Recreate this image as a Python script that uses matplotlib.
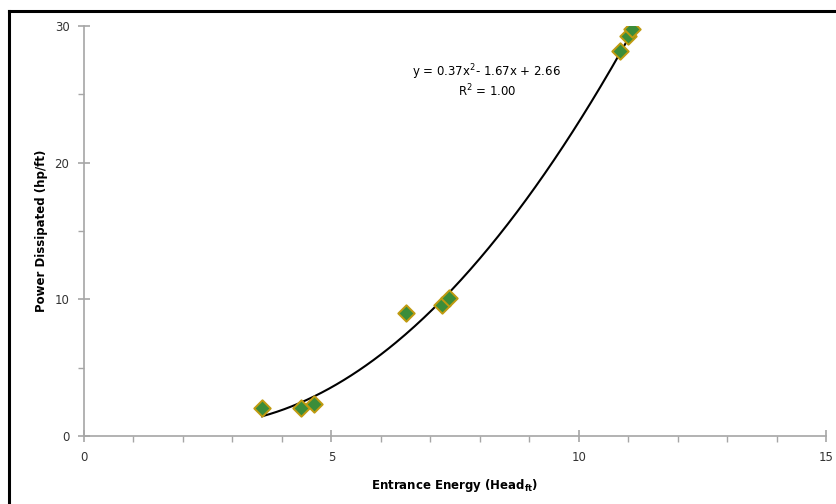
import matplotlib.pyplot as plt
import numpy as np
from matplotlib.lines import Line2D
from matplotlib.ticker import MultipleLocator

# measured points
entrance_energy = [3.60, 4.39, 4.65, 6.51, 7.24, 7.38, 10.83, 11.00, 11.08]
power_dissipated = [2.05, 2.05, 2.34, 9.0, 9.6, 10.1, 28.2, 29.3, 29.8]

# trendline coefficients as printed on the chart
fit_coeffs = [0.37, -1.67, 2.66]

plt.rcParams["font.family"] = ["DejaVu Sans"]

fig = plt.figure(figsize=(8.36, 5.04), dpi=100)
ax = fig.add_axes([0.1005, 0.1349, 0.8875, 0.8135])

xs = np.linspace(min(entrance_energy), max(entrance_energy), 200)
ax.plot(xs, np.polyval(fit_coeffs, xs), color="black", lw=1.5, zorder=2)
ax.scatter(entrance_energy, power_dissipated, marker="D", s=70,
           facecolor="#3b8d3a", edgecolor="#c09a10", linewidth=1.4, zorder=3)

ax.set_xlim(0, 15)
ax.set_ylim(0, 30)
ax.xaxis.set_major_locator(MultipleLocator(5))
ax.xaxis.set_minor_locator(MultipleLocator(1))
ax.yaxis.set_major_locator(MultipleLocator(10))
ax.yaxis.set_minor_locator(MultipleLocator(5))

for side in ["top", "right"]:
    ax.spines[side].set_visible(False)
for side in ["left", "bottom"]:
    ax.spines[side].set_color("#a6a6a6")
    ax.spines[side].set_linewidth(1.2)

ax.tick_params(which="major", direction="inout", length=9, width=1.2,
               color="#a6a6a6", labelsize=8.5, labelcolor="#333333")
ax.tick_params(which="minor", direction="out", length=4, width=1.0,
               color="#a6a6a6")
ax.tick_params(axis="x", which="major", pad=6)
ax.tick_params(axis="y", which="major", pad=6)

ax.set_xlabel("Entrance Energy (Head$_\\mathregular{ft}$)", fontsize=8.5,
              fontweight="bold", labelpad=10)
ax.set_ylabel("Power Dissipated (hp/ft)", fontsize=8.5, fontweight="bold",
              labelpad=5)

ax.text(0.543, 0.888, "y = 0.37x$^\\mathregular{2}$- 1.67x + 2.66",
        transform=ax.transAxes, ha="center", va="center", fontsize=8.5)
ax.text(0.543, 0.841, "R$^\\mathregular{2}$ = 1.00",
        transform=ax.transAxes, ha="center", va="center", fontsize=8.5)

# outer chart frame (top and left edges visible)
fig.add_artist(Line2D([9 / 836, 1.0], [1 - 11 / 504, 1 - 11 / 504],
                      transform=fig.transFigure, color="black", lw=2.2))
fig.add_artist(Line2D([9 / 836, 9 / 836], [0.0, 1 - 11 / 504],
                      transform=fig.transFigure, color="black", lw=2.2))

fig.savefig("out.png", dpi=100)
